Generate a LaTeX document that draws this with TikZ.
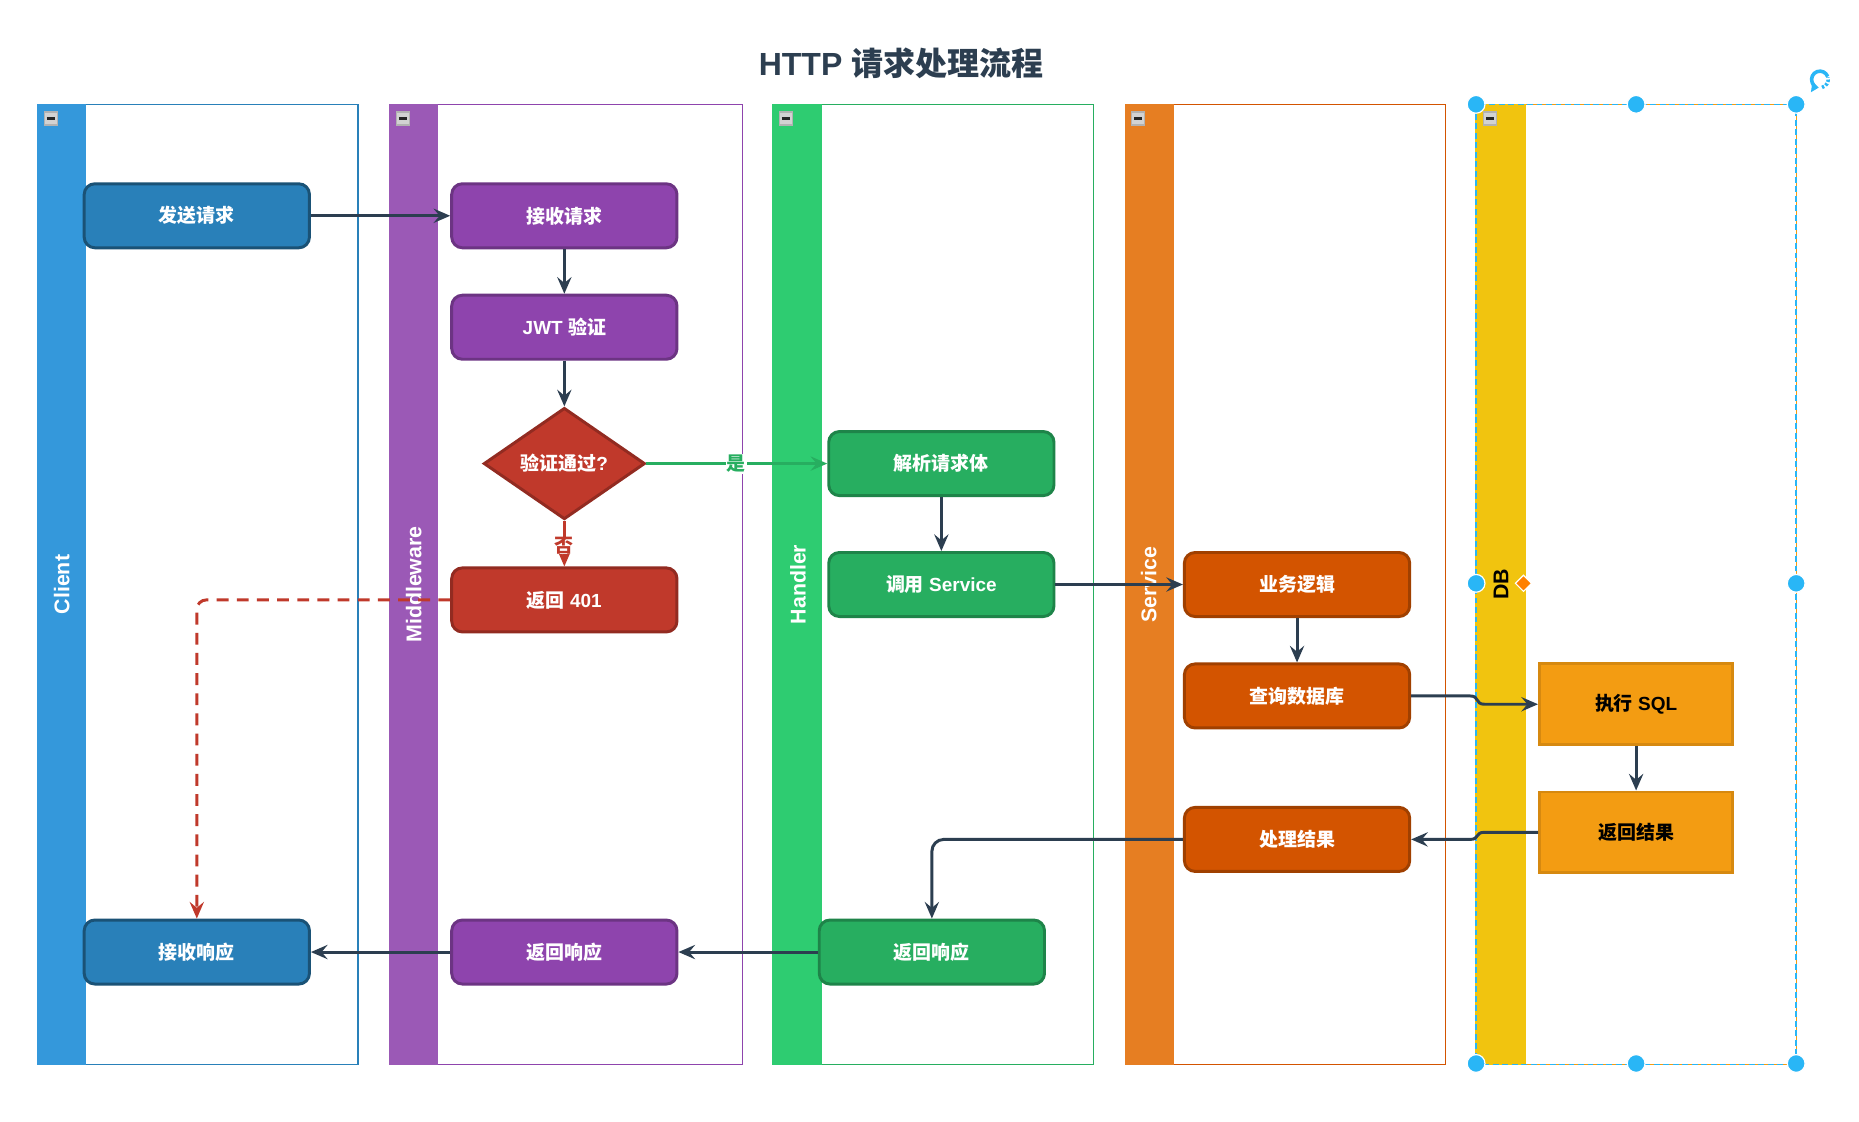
\documentclass[tikz,border=0pt]{standalone}
\usepackage{fontspec}
\setmainfont{Liberation Sans}
\newfontfamily\cjk{Noto Sans CJK SC}
\usetikzlibrary{arrows.meta,shapes.geometric,calc}
\definecolor{edgec}{HTML}{2C3E50}
\definecolor{cliH}{HTML}{3498DB}\definecolor{cliN}{HTML}{2980B9}\definecolor{cliB}{HTML}{1A5276}
\definecolor{midH}{HTML}{9B59B6}\definecolor{midN}{HTML}{8E44AD}\definecolor{midB}{HTML}{6C3483}
\definecolor{hanH}{HTML}{2ECC71}\definecolor{hanN}{HTML}{27AE60}\definecolor{hanB}{HTML}{1E8449}
\definecolor{serH}{HTML}{E67E22}\definecolor{serN}{HTML}{D35400}\definecolor{serB}{HTML}{A04000}
\definecolor{dbH}{HTML}{F1C40F}\definecolor{dbN}{HTML}{F39C12}\definecolor{dbB}{HTML}{D68910}
\definecolor{redN}{HTML}{C0392B}\definecolor{redB}{HTML}{922B21}
\definecolor{selc}{HTML}{29B6F6}
\tikzset{
  lanebody/.style={draw=#1, line width=1pt, fill=white},
  lanehead/.style={fill=#1, draw=#1, line width=1pt},
  lanelbl/.style={rotate=90, font=\bfseries\fontsize{18}{18}\selectfont, text=white, inner sep=0},
  box/.style={rounded corners=9pt, minimum width=190pt, minimum height=54pt, line width=2.5pt,
    font=\bfseries\fontsize{16}{16}\selectfont, text=white, inner sep=0, fill=#1N, draw=#1B},
  dbbox/.style={minimum width=163pt, minimum height=68pt, line width=2.5pt, fill=dbN, draw=dbB,
    font=\bfseries\fontsize{16}{16}\selectfont, text=black, inner sep=0},
  tip/.style={-{Stealth[length=14pt,width=12pt,inset=5pt]}},
  flow/.style={draw=edgec, line width=2.5pt, tip},
  lbl/.style={fill=white, inner sep=1pt, font=\bfseries\fontsize{16}{16}\selectfont},
  handle/.style={circle, fill=selc, draw=white, line width=1pt, minimum size=15pt, inner sep=0},
  collapse/.style={draw=gray!60, fill=gray!35, line width=1pt, minimum size=11pt, inner sep=0},
}
\begin{document}
\begin{tikzpicture}[x=1pt,y=-1pt]
\useasboundingbox (0,0) rectangle (1568,946);
\fill[white] (0,0) rectangle (1568,946);
% title
\node[font=\bfseries\fontsize{27}{27}\selectfont, text=edgec] (title) at (760,53) {HTTP {\cjk 请求处理流程}};
% lanes
\draw[lanebody=cliN] (32,88) rectangle (302,898);
\draw[lanehead=cliH] (32,88) rectangle (72,898);
\draw[lanebody=midN] (329,88) rectangle (626,898);
\draw[lanehead=midH] (329,88) rectangle (369,898);
\draw[lanebody=hanN] (652,88) rectangle (922,898);
\draw[lanehead=hanH] (652,88) rectangle (693,898);
\draw[lanebody=serN] (949,88) rectangle (1219,898);
\draw[lanehead=serH] (949,88) rectangle (990,898);
\draw[lanebody=dbN] (1245,88) rectangle (1515,898);
\draw[lanehead=dbH] (1245,88) rectangle (1287,898);
\draw[selc, line width=1.2pt, dash pattern=on 5pt off 3pt] (1245,88) rectangle (1515,898);
\node[lanelbl] (lclient) at (52,493) {Client};
\node[lanelbl] (lmid) at (349,493) {Middleware};
\node[lanelbl] (lhan) at (673,493) {Handler};
\node[lanelbl] (lser) at (969,493) {Service};
\node[lanelbl, text=black] (ldb) at (1266,493) {DB};
% collapse icons
\foreach \cx/\nm in {43/c1,340/c2,663/c3,960/c4,1257/c5}{
  \node[collapse] (\nm) at (\cx,100) {};
  \draw[black!85, line width=1.8pt] ($(\nm.center)+(-3.5,0)$) -- ($(\nm.center)+(3.5,0)$);
}
% nodes
\node[box=cli] (send) at (166,182) {\cjk 发送请求};
\node[box=mid] (recv) at (476,182) {\cjk 接收请求};
\node[box=mid] (jwt) at (476,276) {JWT {\cjk 验证}};
\node[diamond, minimum width=136pt, minimum height=94pt, aspect=1.45, inner sep=0, fill=redN, draw=redB,
  line width=2.5pt, text=white, font=\bfseries\fontsize{16}{16}\selectfont] (dec) at (476,391) {{\cjk 验证通过}?};
\node[box=red] (r401) at (476,506) {{\cjk 返回} 401};
\node[box=han] (parse) at (794,391) {\cjk 解析请求体};
\node[box=han] (call) at (794,493) {{\cjk 调用} Service};
\node[box=ser] (biz) at (1094,493) {\cjk 业务逻辑};
\node[box=ser] (query) at (1094,587) {\cjk 查询数据库};
\node[box=ser] (proc) at (1094,708) {\cjk 处理结果};
\node[dbbox] (sql) at (1380,594) {{\cjk 执行} SQL};
\node[dbbox] (dbret) at (1380,702) {\cjk 返回结果};
\node[box=cli] (crecv) at (166,803) {\cjk 接收响应};
\node[box=mid] (mret) at (476,803) {\cjk 返回响应};
\node[box=han] (hret) at (786,803) {\cjk 返回响应};
% edges
\draw[flow] (send) -- (recv);
\draw[flow] (recv) -- (jwt);
\draw[flow] (jwt) -- (dec);
\draw[draw=hanN, line width=2.5pt, tip] (dec.east) -- (parse.west);
\node[lbl, text=hanN] (yes) at (621,391) {\cjk 是};
\draw[draw=redN, line width=2.5pt, tip] (dec.south) -- (r401.north);
\node[lbl, text=redN, inner sep=0pt] (no) at (476,460) {\cjk 否};
\draw[draw=redN, line width=2.5pt, dash pattern=on 10pt off 7pt, rounded corners=8pt, tip]
  (r401.west) -- (r401.west -| crecv.north) -- (crecv.north);
\draw[flow] (parse) -- (call);
\draw[flow] (call) -- (biz);
\draw[flow] (biz) -- (query);
\coordinate (j1) at (1240,587);
\coordinate (j2) at (1252,594);
\draw[flow] (query.east) -- (j1) .. controls (1248,587) and (1244,594) .. (j2) -- (sql.west);
\draw[flow] (sql) -- (dbret);
\coordinate (k1) at (1252,702);
\coordinate (k2) at (1240,708);
\draw[flow] (dbret.west) -- (k1) .. controls (1244,702) and (1248,708) .. (k2) -- (proc.east);
\draw[flow, rounded corners=10pt] (proc.west) -- (proc.west -| hret.north) -- (hret.north);
\draw[flow] (hret) -- (mret);
\draw[flow] (mret) -- (crecv);
% selection handles
\foreach \hx/\hy/\nm in {1245/88/h1,1380/88/h2,1515/88/h3,1245/492/h4,1515/492/h5,1245/897/h6,1380/897/h7,1515/897/h8}{
  \node[handle] (\nm) at (\hx,\hy) {};
}
\node[diamond, fill=orange, draw=white, line width=1pt, minimum size=14pt, inner sep=0] (odia) at (1285,492) {};
\node[inner sep=0, minimum size=18pt] (rot) at (1535,67) {};
\draw[selc, line width=3pt, -{Triangle[length=6pt,width=9pt]}] ([shift={(20:7pt)}]rot.center) arc[start angle=20, end angle=262, radius=7pt];
\draw[selc, line width=3pt, dash pattern=on 2pt off 1.5pt] ([shift={(-75:7pt)}]rot.center) arc[start angle=-75, end angle=15, radius=7pt];
\end{tikzpicture}
\end{document}
